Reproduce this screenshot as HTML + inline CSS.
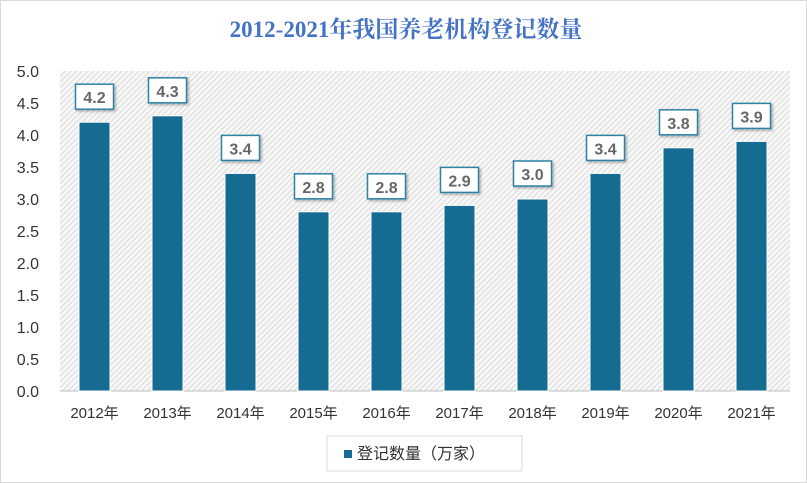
<!DOCTYPE html><html><head><meta charset="utf-8"><style>
body{margin:0;width:807px;height:483px;background:#fff;font-family:"Liberation Sans","Noto Sans CJK SC",sans-serif;position:relative;overflow:hidden}
.frame{position:absolute;left:0;top:0;width:805px;height:481px;border:1px solid #d9d9d9}
</style></head><body><div class="frame"></div>
<svg width="807" height="483" style="position:absolute;left:0;top:0">
<defs><pattern id="h" width="4" height="4" patternUnits="userSpaceOnUse" patternTransform="rotate(45)"><rect width="4" height="4" fill="#f7f7f7"/><line x1="0" y1="0" x2="0" y2="4" stroke="#d2d2d2" stroke-width="1.6"/></pattern>
<filter id="s" x="-20%" y="-20%" width="150%" height="150%"><feDropShadow dx="1.5" dy="1.5" stdDeviation="1.2" flood-color="#000" flood-opacity="0.3"/></filter></defs>
<text x="406" y="37" text-anchor="middle" font-family="Liberation Serif,'Noto Serif CJK SC',serif" font-weight="bold" font-size="23" fill="#4472c4">2012-2021年我国养老机构登记数量</text>
<rect x="60" y="71" width="730" height="320" fill="url(#h)"/>
<line x1="60" y1="391" x2="790" y2="391" stroke="#bfbfbf"/>
<g font-size="16" fill="#333" text-anchor="end">
<text x="39" y="77">5.0</text><text x="39" y="109">4.5</text><text x="39" y="141">4.0</text><text x="39" y="173">3.5</text><text x="39" y="205">3.0</text><text x="39" y="237">2.5</text><text x="39" y="269">2.0</text><text x="39" y="301">1.5</text><text x="39" y="333">1.0</text><text x="39" y="365">0.5</text><text x="39" y="397">0.0</text></g>
<g id="bars"></g>
<rect x="327" y="436" width="195" height="35" fill="#fff" stroke="#d9d9d9"/>
<rect x="344" y="450" width="8" height="8" fill="#156b91"/>
<text x="357" y="459" font-size="16" fill="#333">登记数量（万家）</text>
</svg>
<script>
var v=[4.2,4.3,3.4,2.8,2.8,2.9,3.0,3.4,3.8,3.9],g=document.getElementById('bars'),h='';
v.forEach(function(d,i){var cx=94.5+73*i,t=391-d*64;
h+='<rect x="'+(cx-15.5)+'" y="'+t+'" width="31" height="'+(391-t)+'" fill="#156b91" stroke="#fff" stroke-width="1"/>';
h+='<rect x="'+(cx-19)+'" y="'+(t-38)+'" width="38" height="25" fill="#fff" stroke="#2e82a6" stroke-width="1.5" filter="url(#s)"/>';
h+='<text x="'+cx+'" y="'+(t-19)+'" text-anchor="middle" font-size="16" font-weight="bold" fill="#666">'+d.toFixed(1)+'</text>';
h+='<text x="'+cx+'" y="418" text-anchor="middle" font-size="15" fill="#333">'+(2012+i)+'年</text>';});
g.innerHTML=h;
</script></body></html>
